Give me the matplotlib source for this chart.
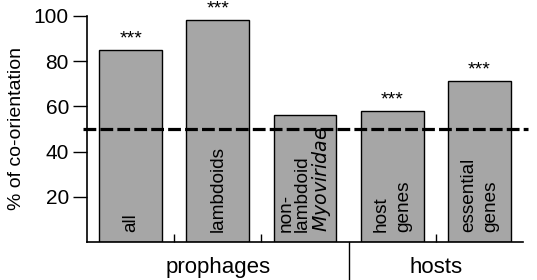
import matplotlib
matplotlib.use('Agg')
import matplotlib.pyplot as plt
import numpy as np

plt.rcParams['font.family'] = ['Liberation Sans', 'DejaVu Sans']

labels = ['all', 'lambdoids', 'non-\nlambdoid\n$\\it{Myoviridae}$', 'host\ngenes', 'essential\ngenes']
values = [85, 98, 56, 58, 71]
stars = ['***', '***', '', '***', '***']
groups = ['prophages', 'hosts']
group_pos = [1.0, 3.5]
yticks = [20, 40, 60, 80, 100]
baseline = 50

W = 5.37
H = 2.8
fig = plt.figure(figsize=(W, H), dpi=100)
ax = fig.add_axes([0.162, 0.136, 0.812, 0.807])

x = np.arange(len(values))
ax.bar(x, values, width=0.72, color='#a6a6a6', edgecolor='black', linewidth=1.0, zorder=2)

spacings = [1.0, 1.0, 0.95, 1.4, 1.4]
for i in range(len(values)):
    ax.text(x[i], 4.5, labels[i], rotation=90, ha='center', va='bottom',
            fontsize=13.7, multialignment='left', linespacing=spacings[i], zorder=4)
    if stars[i]:
        ax.text(x[i], values[i] + 5, stars[i], ha='center', va='center', fontsize=14)

ax.plot([-0.55, 4.56], [baseline, baseline], color='black', linewidth=2.3,
        dashes=(4, 1.3), clip_on=False, zorder=3)

ax.set_xlim(-0.5, 4.5)
ax.set_ylim(0, 100)
ax.set_yticks(yticks)
ax.tick_params(axis='y', direction='out', length=10, width=1, labelsize=15, pad=3)
ax.set_xticks([0.5, 1.5, 3.5])
ax.set_xticklabels([])
ax.tick_params(axis='x', direction='in', length=6, width=1)
ax.spines['top'].set_visible(False)
ax.spines['right'].set_visible(False)
ax.spines['left'].set_linewidth(1.2)
ax.spines['bottom'].set_linewidth(1.2)
ax.set_ylabel('% of co-orientation', fontsize=14, labelpad=6)

# group separator and labels
ax.plot([2.5, 2.5], [0, -17], color='black', linewidth=1, clip_on=False)
for g, p in zip(groups, group_pos):
    ax.text(p, -11.5, g, ha='center', va='center', fontsize=16)

fig.savefig('out.png', dpi=100)
